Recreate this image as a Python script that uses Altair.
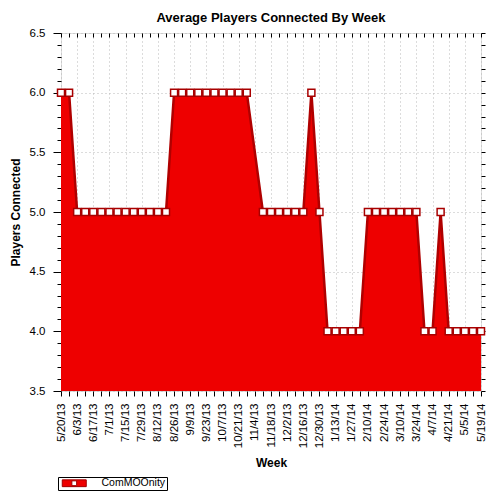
import json
import altair as alt
import pandas as pd

week_labels = [
    "5/20/13", "5/27/13", "6/3/13", "6/10/13", "6/17/13", "6/24/13", "7/1/13",
    "7/8/13", "7/15/13", "7/22/13", "7/29/13", "8/5/13", "8/12/13", "8/19/13",
    "8/26/13", "9/2/13", "9/9/13", "9/16/13", "9/23/13", "9/30/13", "10/7/13",
    "10/14/13", "10/21/13", "10/28/13", "11/4/13", "11/11/13", "11/18/13",
    "11/25/13", "12/2/13", "12/9/13", "12/16/13", "12/23/13", "12/30/13",
    "1/6/14", "1/13/14", "1/20/14", "1/27/14", "2/3/14", "2/10/14", "2/17/14",
    "2/24/14", "3/3/14", "3/10/14", "3/17/14", "3/24/14", "3/31/14", "4/7/14",
    "4/14/14", "4/21/14", "4/28/14", "5/5/14", "5/12/14", "5/19/14",
]
players = [
    6, 6, 5, 5, 5, 5, 5, 5, 5, 5, 5, 5, 5, 5,
    6, 6, 6, 6, 6, 6, 6, 6, 6, 6, None,
    5, 5, 5, 5, 5, 5, 6, 5,
    4, 4, 4, 4, 4,
    5, 5, 5, 5, 5, 5, 5,
    4, 4, 5, 4, 4, 4, 4, 4,
]
series_name = "ComMOOnity"
y_ticks = [round(3.5 + 0.1 * i, 1) for i in range(31)]

df = pd.DataFrame({
    "week": list(range(len(week_labels))),
    "label": week_labels,
    "players": players,
})
df = df.dropna().reset_index(drop=True)
df["series"] = series_name
df["base"] = 3.5

FONT = "Liberation Sans"
labels_js = json.dumps(week_labels)
major_y = "abs(datum.value * 2 - round(datum.value * 2)) < 0.001"
even_x = "datum.value % 2 == 0"

x_scale = alt.Scale(domain=[0, 52], nice=False, zero=False)
y_scale = alt.Scale(domain=[3.5, 6.5], nice=False, zero=False)

x_bottom = alt.X(
    "week:Q", scale=x_scale, title="Week",
    axis=alt.Axis(
        values=list(range(53)), labelAngle=270, labelAlign="right",
        labelBaseline="middle",
        labelExpr=f"{even_x} ? {labels_js}[datum.value] : ''",
        labelFont=FONT, labelFontSize=11.5, labelColor="black", labelPadding=7,
        labelOverlap=False, labelBound=False, labelFlush=False,
        tickSize=5, tickColor="black", domain=False,
        grid=True, gridColor="#B8B8B8", gridDash=[1, 3],
        gridOpacity={"condition": {"test": even_x, "value": 1}, "value": 0},
        titleFont=FONT, titleFontSize=12, titleFontWeight="bold",
        titleColor="black", titlePadding=10,
    ),
)
y_left = alt.Y(
    "players:Q", scale=y_scale, title="Players Connected",
    axis=alt.Axis(
        values=y_ticks,
        labelExpr=f"{major_y} ? format(datum.value, '.1f') : ''",
        labelFont=FONT, labelFontSize=11.5, labelColor="black", labelPadding=8,
        labelOverlap=False, labelBound=False, labelFlush=False,
        tickSize={"condition": {"test": major_y, "value": 8}, "value": 4},
        tickColor="black", domain=False,
        grid=True, gridColor="#B8B8B8", gridDash=[1, 3],
        gridOpacity={"condition": {"test": major_y, "value": 1}, "value": 0},
        titleFont=FONT, titleFontSize=12, titleFontWeight="bold",
        titleColor="black", titlePadding=7,
    ),
)

legend_symbol = "M-3,-0.85H3V0.85H-3Z M-0.6,-0.6V0.6H0.6V-0.6Z"

area = alt.Chart(df).mark_area(opacity=1, interpolate="linear").encode(
    x=x_bottom,
    y=y_left,
    y2="base:Q",
    color=alt.Color(
        "series:N", scale=alt.Scale(range=["#EE0000"]),
        legend=alt.Legend(
            orient="none", legendX=-3, legendY=444, title=None,
            symbolType=legend_symbol, symbolSize=64, symbolOffset=10,
            symbolStrokeColor="#A00000", symbolStrokeWidth=1,
            labelFont=FONT, labelFontSize=10.5, labelColor="black",
            labelOffset=22, strokeColor="black", fillColor="white",
            padding=1, cornerRadius=0, labelLimit=200,
        ),
    ),
)

line = alt.Chart(df).mark_line(color="#B00000", strokeWidth=2.5).encode(
    x=alt.X("week:Q", scale=x_scale, title=None,
            axis=alt.Axis(orient="top", values=list(range(53)), labels=False,
                          domain=False, grid=False, tickSize=4,
                          tickColor="black", offset=-4)),
    y=alt.Y("players:Q", scale=y_scale, title=None,
            axis=alt.Axis(orient="right", values=y_ticks, labels=False,
                          domain=False, grid=False, tickSize=4,
                          tickColor="black")),
)

points = alt.Chart(df).mark_point(
    shape="square", filled=True, fill="white", stroke="#A80000",
    strokeWidth=1.5, size=49, opacity=1,
).encode(
    x=alt.X("week:Q", scale=x_scale, axis=None),
    y=alt.Y("players:Q", scale=y_scale, axis=None),
)

chart = alt.layer(area, line, points).resolve_axis(
    x="independent", y="independent"
).properties(
    width=420,
    height=358,
    padding={"left": 53, "top": 25, "right": 11, "bottom": 101},
    autosize=alt.AutoSizeParams(type="none"),
    title=alt.Title(
        "Average Players Connected By Week", font=FONT, fontSize=13,
        fontWeight="bold", color="black", anchor="middle", offset=2,
    ),
).configure_view(
    fill="#FFFFE6", stroke="black", strokeWidth=1,
).configure(background="white")

chart.save("out.html", embed_options={"renderer": "svg", "actions": False})
